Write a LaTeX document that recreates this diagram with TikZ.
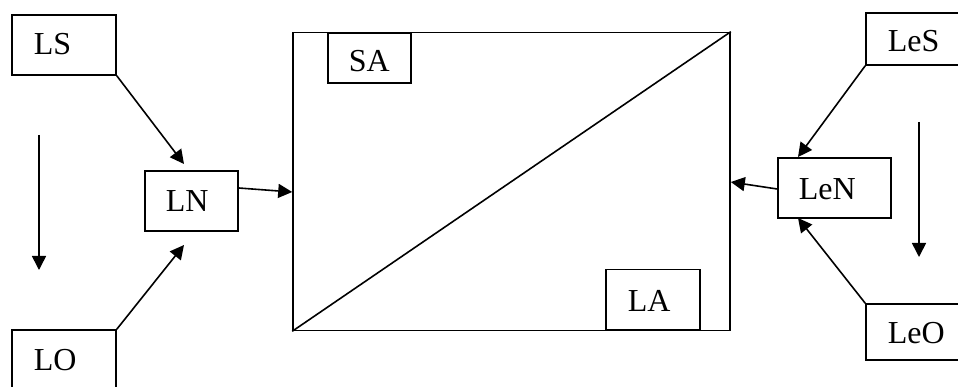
\documentclass[tikz,border=0pt]{standalone}
\usepackage{fontspec}
\setmainfont{Liberation Serif}
\usetikzlibrary{arrows.meta}
\begin{document}
\begin{tikzpicture}[x=1pt,y=-1pt,line width=1.6pt,
  box/.style={draw,rectangle,inner sep=0pt,line width=1.6pt},
  lbl/.style={anchor=base west,inner sep=0pt,font=\fontsize{32}{36}\selectfont},
  arr/.style={-{Triangle[length=14pt,width=14pt]},line width=1.6pt}]
\useasboundingbox (0,0) rectangle (958,387);
\clip (0,0) rectangle (958,387);
% boxes
\node[box,minimum width=104pt,minimum height=60pt] (LS) at (64,45) {};
\node[box,minimum width=104pt,minimum height=62pt] (LO) at (64,361) {};
\node[box,minimum width=93pt,minimum height=60pt] (LN) at (191.5,201) {};
\node[box,minimum width=437pt,minimum height=298pt] (Big) at (511.5,181.5) {};
\node[box,minimum width=83pt,minimum height=50pt,anchor=north west] (SA) at (327,32.5) {};
\node[box,minimum width=94pt,minimum height=60pt,anchor=south west] (LA) at (605,330.5) {};
\node[box,minimum width=104pt,minimum height=52pt] (LeS) at (918,39) {};
\node[box,minimum width=104pt,minimum height=56pt] (LeO) at (918,332) {};
\node[box,minimum width=113pt,minimum height=60pt] (LeN) at (834.5,188) {};
% labels
\node[lbl] (tLS) at (33,55) {LS};
\node[lbl] (tLO) at (33,370) {LO};
\node[lbl] (tLN) at (165,211.5) {LN};
\node[lbl] (tSA) at (348,72) {SA};
\node[lbl] (tLA) at (627,311.5) {LA};
\node[lbl] (tLeS) at (887,51.5) {LeS};
\node[lbl] (tLeN) at (798,200) {LeN};
\node[lbl] (tLeO) at (887,343) {LeO};
% diagonal
\draw (Big.south west) -- (Big.north east);
% connectors
\coordinate (pLSN) at (184,164);
\coordinate (pLON) at (184,245);
\coordinate (vL1) at (39,135);
\coordinate (vL2) at (39,270);
\coordinate (pLeSN) at (798,157);
\coordinate (pLeON) at (798,218);
\coordinate (vR1) at (919,122);
\coordinate (vR2) at (919,257);
\draw[arr] (LS.south east) -- (pLSN);
\draw[arr] (LO.north east) -- (pLON);
\draw[arr] (vL1) -- (vL2);
\draw[arr] (LN.east |- 0,188) -- (Big.west |- 0,192);
\draw[arr] (LeN.west |- 0,189) -- (Big.east |- 0,182);
\draw[arr] (LeS.south west) -- (pLeSN);
\draw[arr] (LeO.north west) -- (pLeON);
\draw[arr] (vR1) -- (vR2);
\end{tikzpicture}
\end{document}
